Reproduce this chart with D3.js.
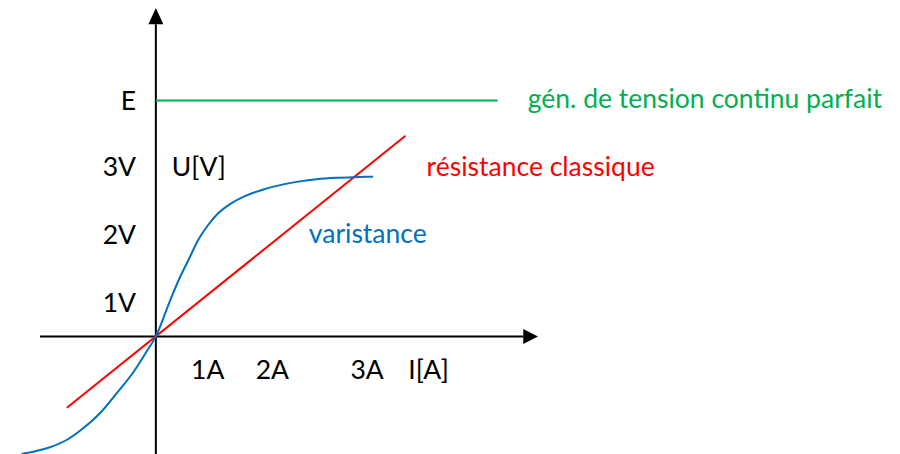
<!DOCTYPE html>
<html>
<head>
<meta charset="utf-8">
<script src="https://cdn.jsdelivr.net/npm/d3@7/dist/d3.min.js"></script>
<style>
  html, body { margin: 0; padding: 0; background: #ffffff; }
  svg { display: block; }
  text { font-family: Lato, "Open Sans", sans-serif; font-size: 26.5px; }
</style>
</head>
<body>
<svg id="chart" width="900" height="454"></svg>
<script>
// Current I (A) and voltage U (V) characteristic of three dipoles.

// Varistance: sampled points of its S-shaped characteristic (I, U)
const varistanceI = [-2.098, -1.917, -1.656, -1.395, -1.136, -0.875, -0.614, -0.355, -0.145, 0,
                     0.219, 0.375, 0.517, 0.661, 0.817, 0.973, 1.183, 1.391, 1.677, 1.990,
                     2.250, 2.511, 2.823, 3.083, 3.395];
const varistanceU = [-1.730, -1.696, -1.631, -1.524, -1.352, -1.131, -0.837, -0.531, -0.223, 0,
                     0.520, 0.866, 1.138, 1.417, 1.638, 1.810, 1.961, 2.064, 2.160, 2.236,
                     2.280, 2.311, 2.332, 2.342, 2.349];

// Classic resistance: straight line through the origin (end points)
const resistanceI = [-1.39, 3.90];
const resistanceU = [-1.05, 2.95];

// Ideal DC voltage source: constant U = E
const sourceE = 3.47;
const sourceI = [0, 5.34];

// Axis labels and where they sit along each axis
const xTickLabels = ["1A", "2A", "3A"];
const xTickValues = [0.81, 1.82, 3.30];
const yTickLabels = ["1V", "2V", "3V", "E"];
const yTickValues = [0.5, 1.5, 2.5, sourceE];
const xAxisTitle = "I[A]";
const yAxisTitle = "U[V]";

// Curve names
const seriesNames = ["varistance", "résistance classique", "gén. de tension continu parfait"];

const svg = d3.select("#chart");

const x = d3.scaleLinear().domain([-1.81, 5.97]).range([40, 538]);
const y = d3.scaleLinear().domain([-1.73, 4.83]).range([454, 8]);

const BLUE = "#0070c0", RED = "#ff0000", GREEN = "#00b050";

// --- axes (crossing at the origin, arrowheads at the positive ends)
const axes = svg.append("g");
axes.append("line")
  .attr("x1", x(-1.81)).attr("x2", x(5.74))
  .attr("y1", y(0)).attr("y2", y(0))
  .attr("stroke", "#000").attr("stroke-width", 2);
axes.append("path")
  .attr("d", `M${x(5.97)},${y(0)} L${x(5.74)},${y(0) - 7.5} L${x(5.74)},${y(0) + 7.5} Z`)
  .attr("fill", "#000");

axes.append("line")
  .attr("x1", x(0)).attr("x2", x(0))
  .attr("y1", y(-1.73)).attr("y2", y(4.59))
  .attr("stroke", "#000").attr("stroke-width", 2);
axes.append("path")
  .attr("d", `M${x(0)},${y(4.83)} L${x(0) - 7.5},${y(4.59)} L${x(0) + 7.5},${y(4.59)} Z`)
  .attr("fill", "#000");

// --- ideal source (horizontal line at E)
svg.append("line")
  .attr("x1", x(sourceI[0])).attr("x2", x(sourceI[1]))
  .attr("y1", y(sourceE)).attr("y2", y(sourceE))
  .attr("stroke", GREEN).attr("stroke-width", 2);

// --- resistance
svg.append("path")
  .datum(resistanceI.map((v, i) => [v, resistanceU[i]]))
  .attr("d", d3.line().x(d => x(d[0])).y(d => y(d[1])))
  .attr("fill", "none").attr("stroke", RED).attr("stroke-width", 2);

// --- varistance
svg.append("path")
  .datum(varistanceI.map((v, i) => [v, varistanceU[i]]))
  .attr("d", d3.line().curve(d3.curveMonotoneX).x(d => x(d[0])).y(d => y(d[1])))
  .attr("fill", "none").attr("stroke", BLUE).attr("stroke-width", 2);

// --- tick labels
const capShift = 9.5;
svg.append("g").selectAll("text")
  .data(xTickLabels)
  .join("text")
  .attr("x", (d, i) => x(xTickValues[i]))
  .attr("y", y(-0.63))
  .attr("text-anchor", "middle")
  .attr("fill", "#000")
  .text(d => d);

svg.append("g").selectAll("text")
  .data(yTickLabels)
  .join("text")
  .attr("x", x(-0.31))
  .attr("y", (d, i) => y(yTickValues[i]) + capShift)
  .attr("text-anchor", "end")
  .attr("fill", "#000")
  .text(d => d);

// --- axis titles
svg.append("text")
  .attr("x", x(4.26)).attr("y", y(-0.63))
  .attr("text-anchor", "middle").attr("fill", "#000")
  .text(xAxisTitle);
svg.append("text")
  .attr("x", x(0.67)).attr("y", y(2.5) + capShift)
  .attr("text-anchor", "middle").attr("fill", "#000")
  .text(yAxisTitle);

// --- curve names
svg.append("text")
  .attr("x", x(2.39)).attr("y", y(1.37))
  .attr("fill", BLUE).text(seriesNames[0]);
svg.append("text")
  .attr("x", x(4.23)).attr("y", y(2.36))
  .attr("fill", RED).text(seriesNames[1]);
svg.append("text")
  .attr("x", x(5.81)).attr("y", y(3.36))
  .attr("fill", GREEN).text(seriesNames[2]);
</script>
</body>
</html>
